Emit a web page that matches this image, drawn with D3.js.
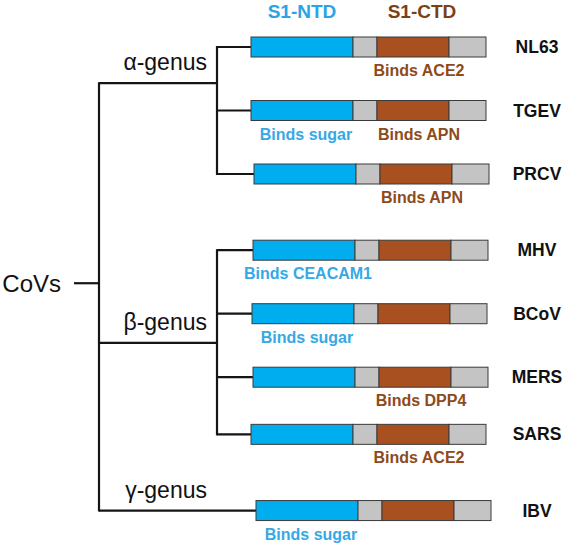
<!DOCTYPE html>
<html>
<head>
<meta charset="utf-8">
<script src="https://cdn.jsdelivr.net/npm/d3@7"></script>
<style>
  html, body { margin: 0; padding: 0; background: #fff; }
  svg { display: block; }
  text { font-family: "Liberation Sans", Arial, Helvetica, sans-serif; }
</style>
</head>
<body>
<svg id="chart" width="566" height="545"></svg>
<script>
// ---------- data ----------
const viruses = ["NL63", "TGEV", "PRCV", "MHV", "BCoV", "MERS", "SARS", "IBV"];
const genusOf = ["α", "α", "α", "β", "β", "β", "β", "γ"];
// vertical slot of each virus row in the tree
const rowSlot = [0, 1, 2, 3.2, 4.2, 5.2, 6.1, 7.3];
// start offset of each spike S1 construct (relative units)
const startOffset = [0, 0, 3, 2, 1, 2, 0, 5];
// S1 domain boundaries (relative units): NTD, linker, CTD, C-terminal rest
const domainNames = ["S1-NTD", "linker", "S1-CTD", "rest"];
const domainBounds = [0, 102, 126, 198, 235];
// receptor annotations
const ntdLabel = [null, "Binds sugar", null, "Binds CEACAM1", "Binds sugar", null, null, "Binds sugar"];
const ctdLabel = ["Binds ACE2", "Binds APN", "Binds APN", null, null, "Binds DPP4", "Binds ACE2", null];
// genus nodes (slot positions in the tree)
const genera = ["α", "β", "γ"];
const genusLabels = ["α-genus", "β-genus", "γ-genus"];
const genusSlot = [0.57, 4.66, 7.3];
const rootLabel = "CoVs";
const rootSlot = 3.72;
const headers = ["S1-NTD", "S1-CTD"];

// ---------- styles ----------
const domainColor = { "S1-NTD": "#00AEEF", "linker": "#C4C4C4", "S1-CTD": "#A8501F", "rest": "#C4C4C4" };
const ntdText = "#36A8E6", ctdText = "#8E4A1A";
const headerColor = { "S1-NTD": "#2BA3E4", "S1-CTD": "#7E3F14" };

// ---------- scales ----------
const svg = d3.select("#chart");
const barH = 20;
const y = d3.scaleLinear().domain([0, 1]).range([37, 100.5]);
const x = d3.scaleLinear().domain([0, 241]).range([251, 492]);
const cy = s => y(s) + barH / 2;

const trunkX = 99, genusX = 217, rootX0 = 74;

// ---------- tree ----------
const tree = svg.append("g").attr("stroke", "#151515").attr("stroke-width", 2.2).attr("fill", "none");
// root stub
tree.append("line").attr("x1", rootX0).attr("x2", trunkX).attr("y1", cy(rootSlot)).attr("y2", cy(rootSlot));
// trunk
tree.append("line").attr("x1", trunkX).attr("x2", trunkX)
  .attr("y1", cy(d3.min(genusSlot)) - 1).attr("y2", cy(d3.max(genusSlot)) + 1);

genera.forEach((g, gi) => {
  const idx = viruses.map((v, i) => i).filter(i => genusOf[i] === g);
  const gy = cy(genusSlot[gi]);
  if (idx.length > 1) {
    tree.append("line").attr("x1", trunkX).attr("x2", genusX).attr("y1", gy).attr("y2", gy);
    const ys = idx.map(i => cy(rowSlot[i]));
    tree.append("line").attr("x1", genusX).attr("x2", genusX)
      .attr("y1", d3.min(ys) - 1).attr("y2", d3.max(ys) + 1);
    idx.forEach(i => {
      tree.append("line").attr("x1", genusX).attr("x2", x(startOffset[i]))
        .attr("y1", cy(rowSlot[i])).attr("y2", cy(rowSlot[i]));
    });
  } else {
    const i = idx[0];
    tree.append("line").attr("x1", trunkX).attr("x2", x(startOffset[i]))
      .attr("y1", gy).attr("y2", gy);
  }
  svg.append("text").attr("x", 207).attr("y", gy - 13)
    .attr("text-anchor", "end").attr("font-size", 23).attr("fill", "#111")
    .text(genusLabels[gi]);
});

svg.append("text").attr("x", 61).attr("y", cy(rootSlot) + 9)
  .attr("text-anchor", "end").attr("font-size", 24).attr("fill", "#111").text(rootLabel);

// ---------- bars ----------
const rows = svg.selectAll("g.row").data(viruses).join("g").attr("class", "row");
rows.each(function (v, i) {
  const g = d3.select(this);
  const top = y(rowSlot[i]);
  domainNames.forEach((dn, k) => {
    g.append("rect")
      .attr("x", x(startOffset[i] + domainBounds[k]))
      .attr("y", top)
      .attr("width", x(startOffset[i] + domainBounds[k + 1]) - x(startOffset[i] + domainBounds[k]))
      .attr("height", barH)
      .attr("fill", domainColor[dn])
      .attr("stroke", "#3a3a3a").attr("stroke-width", 1);
  });
  // virus name
  g.append("text").attr("x", 537).attr("y", top + barH / 2 + 6)
    .attr("text-anchor", "middle").attr("font-size", 17.5).attr("font-weight", "bold")
    .attr("fill", "#111").text(v);
  // annotations
  if (ntdLabel[i]) {
    const c = (x(startOffset[i] + domainBounds[0]) + x(startOffset[i] + domainBounds[1])) / 2 + 4;
    g.append("text").attr("x", c).attr("y", top + barH + 19)
      .attr("text-anchor", "middle").attr("font-size", 16).attr("font-weight", "bold")
      .attr("fill", ntdText).text(ntdLabel[i]);
  }
  if (ctdLabel[i]) {
    const c = (x(startOffset[i] + domainBounds[2]) + x(startOffset[i] + domainBounds[3])) / 2 + 6;
    g.append("text").attr("x", c).attr("y", top + barH + 19)
      .attr("text-anchor", "middle").attr("font-size", 16).attr("font-weight", "bold")
      .attr("fill", ctdText).text(ctdLabel[i]);
  }
});

// ---------- headers ----------
const hx = { "S1-NTD": (x(domainBounds[0]) + x(domainBounds[1])) / 2,
             "S1-CTD": (x(domainBounds[2]) + x(domainBounds[3])) / 2 + 9 };
headers.forEach(h => {
  svg.append("text").attr("x", hx[h]).attr("y", 18)
    .attr("text-anchor", "middle").attr("font-size", 19).attr("font-weight", "bold")
    .attr("fill", headerColor[h]).text(h);
});
</script>
</body>
</html>
